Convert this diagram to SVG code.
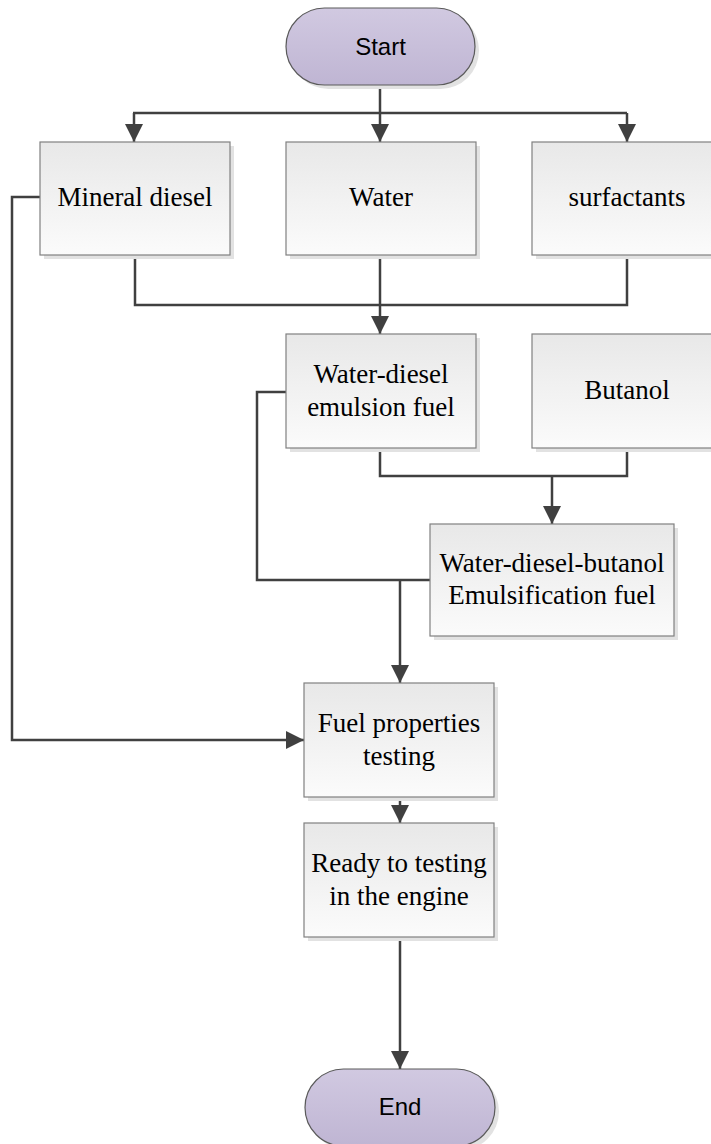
<svg xmlns="http://www.w3.org/2000/svg" width="711" height="1144" viewBox="0 0 711 1144">
<defs>
<linearGradient id="gBox" x1="0" y1="0" x2="0" y2="1">
<stop offset="0" stop-color="#e8e8e8"/>
<stop offset="1" stop-color="#fbfbfb"/>
</linearGradient>
<linearGradient id="gPill" x1="0" y1="0" x2="0" y2="1">
<stop offset="0" stop-color="#d1c9e1"/>
<stop offset="1" stop-color="#bfb5d3"/>
</linearGradient>
<marker id="arr" markerUnits="userSpaceOnUse" markerWidth="18" markerHeight="18" refX="18" refY="9" orient="auto">
<path d="M0,0 L18,9 L0,18 z" fill="#404040"/>
</marker>
</defs>
<style>
.box{fill:url(#gBox);stroke:#808080;stroke-width:1.2}
.pill{fill:url(#gPill);stroke:#5a5a5a;stroke-width:1.2}
.sh{fill:#e2e2e2}
.t{font-family:"Liberation Serif","Times New Roman",serif;font-size:27px;fill:#000;text-anchor:middle}
.s{font-family:"Liberation Sans",Arial,sans-serif;font-size:24px;fill:#000;text-anchor:middle}
.c{fill:none;stroke:#404040;stroke-width:2.5}
.a{fill:none;stroke:#404040;stroke-width:2.5;marker-end:url(#arr)}
</style>
<rect width="711" height="1144" fill="#ffffff"/>
<g id="connectors">
<path class="c" d="M133,113 H627"/>
<path class="a" d="M380,85 V142"/>
<path class="a" d="M134,113 V142"/>
<path class="a" d="M627,113 V142"/>
<path class="c" d="M135,255 V305 H627 V255"/>
<path class="a" d="M380,255 V334"/>
<path class="c" d="M380,448 V476 H627 V448"/>
<path class="a" d="M552,476 V524"/>
<path class="c" d="M286,392 H257 V580 H430"/>
<path class="a" d="M400,580 V683"/>
<path class="a" d="M40,197 H12 V740 H304"/>
<path class="a" d="M400,797 V823"/>
<path class="a" d="M400,937 V1069"/>
</g>
<g id="start">
<rect class="sh" x="290" y="12" width="189" height="77" rx="38.5"/>
<rect class="pill" x="286" y="8" width="189" height="77" rx="38.5"/>
<text class="s" x="380.5" y="55">Start</text>
</g>
<g id="mineral">
<rect class="sh" x="44" y="146" width="190" height="113"/>
<rect class="box" x="40" y="142" width="190" height="113"/>
<text class="t" x="135" y="206">Mineral diesel</text>
</g>
<g id="water">
<rect class="sh" x="290" y="146" width="190" height="113"/>
<rect class="box" x="286" y="142" width="190" height="113"/>
<text class="t" x="381" y="206">Water</text>
</g>
<g id="surfactants">
<rect class="sh" x="536" y="146" width="190" height="113"/>
<rect class="box" x="532" y="142" width="190" height="113"/>
<text class="t" x="627" y="206">surfactants</text>
</g>
<g id="wdef">
<rect class="sh" x="290" y="338" width="190" height="114"/>
<rect class="box" x="286" y="334" width="190" height="114"/>
<text class="t" x="381" y="383">Water-diesel</text>
<text class="t" x="381" y="416">emulsion fuel</text>
</g>
<g id="butanol">
<rect class="sh" x="536" y="338" width="190" height="114"/>
<rect class="box" x="532" y="334" width="190" height="114"/>
<text class="t" x="627" y="399">Butanol</text>
</g>
<g id="wdbef">
<rect class="sh" x="434" y="528" width="244" height="112"/>
<rect class="box" x="430" y="524" width="244" height="112"/>
<text class="t" x="552" y="572">Water-diesel-butanol</text>
<text class="t" x="552" y="604">Emulsification fuel</text>
</g>
<g id="fpt">
<rect class="sh" x="308" y="687" width="190" height="114"/>
<rect class="box" x="304" y="683" width="190" height="114"/>
<text class="t" x="399" y="732">Fuel properties</text>
<text class="t" x="399" y="765">testing</text>
</g>
<g id="ready">
<rect class="sh" x="308" y="827" width="190" height="114"/>
<rect class="box" x="304" y="823" width="190" height="114"/>
<text class="t" x="399" y="872">Ready to testing</text>
<text class="t" x="399" y="905">in the engine</text>
</g>
<g id="end">
<rect class="sh" x="309" y="1073" width="190" height="77" rx="38.5"/>
<rect class="pill" x="305" y="1069" width="190" height="77" rx="38.5"/>
<text class="s" x="400" y="1115">End</text>
</g>
</svg>
